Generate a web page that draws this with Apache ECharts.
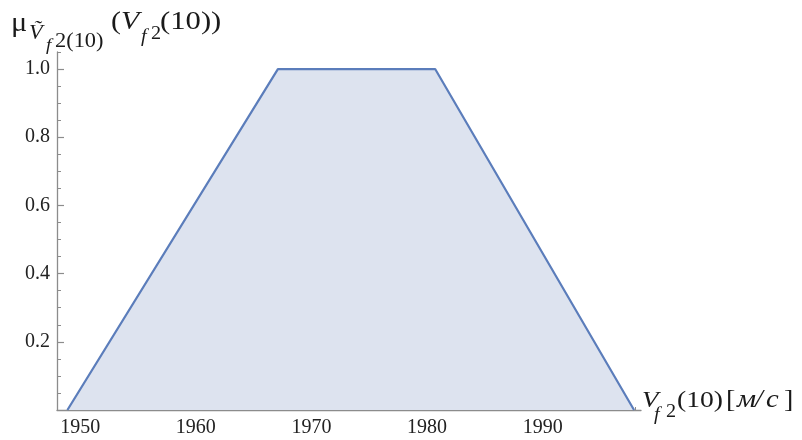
<!DOCTYPE html>
<html>
<head>
<meta charset="utf-8">
<script src="https://cdn.jsdelivr.net/npm/echarts@6/dist/echarts.min.js"></script>
<style>html,body{margin:0;padding:0;background:#fff}#c{width:802px;height:440px}</style>
</head>
<body>
<div id="c"></div>
<script>
// ---- data ----
var velocity = [1948.9, 1967.1, 1980.7, 1997.9];   // V_f2(10), m/s
var membership = [0, 1, 1, 0];                       // mu
var xTickLabels = [1950, 1960, 1970, 1980, 1990];
var yTickLabels = [0.2, 0.4, 0.6, 0.8, 1.0];
var xMinorStep = 2;
var yMinorStep = 0.05;

var X_MIN = 1948, X_MAX = 1998.5, Y_MIN = 0, Y_MAX = 1.05;

var xMinor = [];
for (var v = X_MIN; v <= X_MAX + 1e-9; v += xMinorStep) xMinor.push(Math.round(v * 100) / 100);
var yMinor = [];
for (var k = 1; k * yMinorStep <= Y_MAX + 1e-9; k++) yMinor.push(Math.round(k * yMinorStep * 100) / 100);

var seriesData = velocity.map(function (x, i) { return [x, membership[i]]; });

var SERIF = '"Liberation Serif", "Times New Roman", "DejaVu Serif", serif';
var axisColor = '#8c8c8c';
var labelColor = '#222222';

function txt(text, x, baseline, size, italic, sx) {
  return {
    type: 'text',
    x: x,
    y: baseline - 0.3 * size,
    scaleX: sx || 1.12,
    style: {
      text: text,
      x: 0,
      y: 0,
      font: (italic ? 'italic ' : '') + size + 'px ' + SERIF,
      fill: '#1a1a1a',
      textVerticalAlign: 'middle',
      verticalAlign: 'middle',
      textAlign: 'left'
    }
  };
}

var chart = echarts.init(document.getElementById('c'), null, { renderer: 'canvas' });
chart.setOption({
  animation: false,
  backgroundColor: '#ffffff',
  grid: { left: 57, right: 161, top: 52, bottom: 30, containLabel: false },
  xAxis: [{
    type: 'value', min: X_MIN, max: X_MAX,
    axisLine: { show: true, onZero: false, lineStyle: { color: axisColor, width: 1.3 } },
    axisTick: { show: true, inside: true, length: 6, customValues: xTickLabels, lineStyle: { color: axisColor, width: 1.2 } },
    axisLabel: { show: true, customValues: xTickLabels, margin: 8, color: labelColor,
      fontFamily: SERIF, fontSize: 20, formatter: function (v) { return String(v); } },
    splitLine: { show: false }
  }, {
    type: 'value', min: X_MIN, max: X_MAX, position: 'bottom',
    axisLine: { show: false },
    axisTick: { show: true, inside: true, length: 3, customValues: xMinor, lineStyle: { color: axisColor, width: 1 } },
    axisLabel: { show: false },
    splitLine: { show: false }
  }],
  yAxis: [{
    type: 'value', min: Y_MIN, max: Y_MAX,
    axisLine: { show: true, onZero: false, lineStyle: { color: axisColor, width: 1.3 } },
    axisTick: { show: true, inside: true, length: 7, customValues: yTickLabels, lineStyle: { color: axisColor, width: 1.2 } },
    axisLabel: { show: true, customValues: yTickLabels, margin: 7, color: labelColor,
      fontFamily: SERIF, fontSize: 20, formatter: function (v) { return v.toFixed(1); } },
    splitLine: { show: false }
  }, {
    type: 'value', min: Y_MIN, max: Y_MAX, position: 'left',
    axisLine: { show: false },
    axisTick: { show: true, inside: true, length: 4, customValues: yMinor, lineStyle: { color: axisColor, width: 1 } },
    axisLabel: { show: false },
    splitLine: { show: false }
  }],
  series: [{
    type: 'line',
    data: seriesData,
    xAxisIndex: 0, yAxisIndex: 0,
    symbol: 'none',
    lineStyle: { color: '#5b7dbb', width: 2.2 },
    areaStyle: { color: '#dde3ef', opacity: 1 },
    z: 1
  }],
  graphic: [
    // y-axis title: mu_{V~_{f2(10)}}(V_{f2}(10))
    txt('\u03BC', 11, 32, 27, false),
    txt('V\u0303', 29, 40, 20, true),
    txt('f', 46, 51, 17, true),
    txt('2(10)', 55, 48, 20, false),
    txt('(', 111, 30, 26, false, 1.15),
    txt('V', 121, 30, 26, true, 1.15),
    txt('f', 141, 43, 18, true),
    txt('2', 151, 40, 18, false),
    txt('(10))', 160, 30, 26, false, 1.18),
    // x-axis title: V_{f2}(10) [м/с]
    txt('V', 642, 408, 24, true),
    txt('f', 654, 421, 18, true),
    txt('2', 666, 418, 18, false),
    txt('(10)', 677, 408, 24, false, 1.15),
    txt('[', 726, 408, 25, false),
    txt('\u043C', 737, 408, 26, true, 1.15),
    txt('/', 755, 408, 25, true),
    txt('\u0441', 766, 408, 26, true, 1.1),
    txt(']', 784, 408, 25, false)
  ]
});
</script>
</body>
</html>
